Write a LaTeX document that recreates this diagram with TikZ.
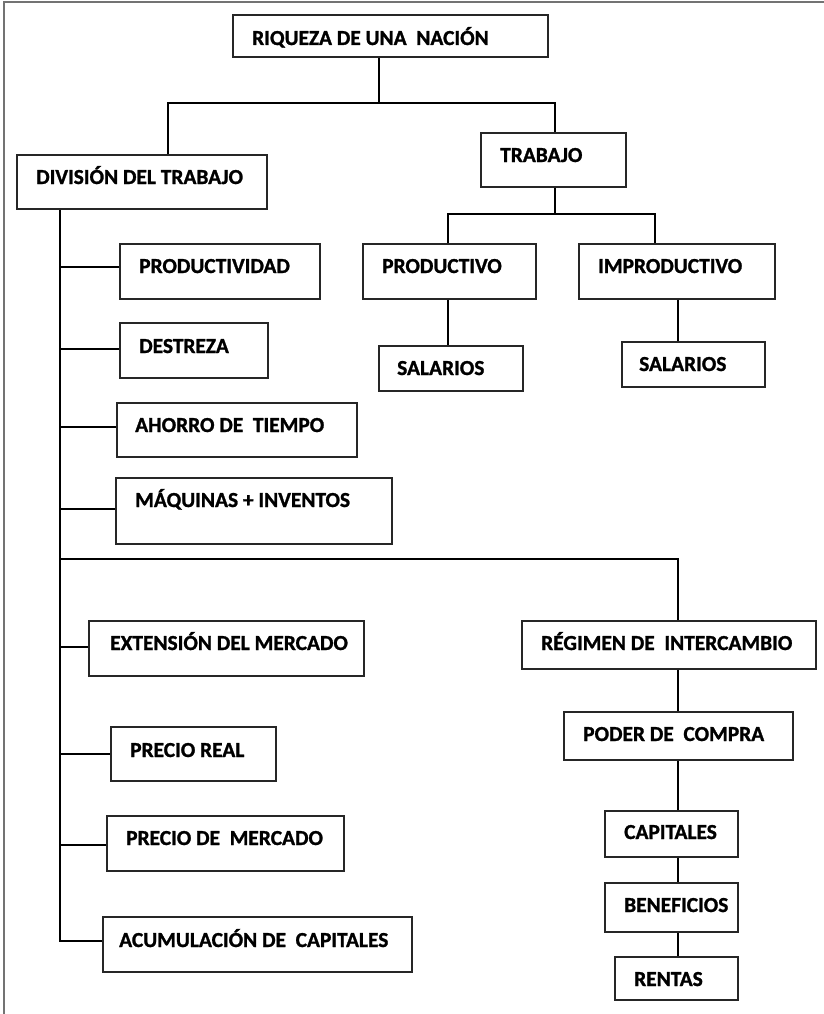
\documentclass[tikz,border=0pt]{standalone}
\usepackage{fontspec}
\setmainfont{Carlito}[BoldFont={Carlito Bold}, BoldFeatures={FakeBold=1.2}]
% box given by left, top, right, bottom (y grows downward)
\newcommand\bx[5]{\node[box, minimum width={(#4-#2)*1pt}, minimum height={(#5-#3)*1pt}] (#1) at ({(#2+#4)/2},{(#3+#5)/2}) {};}
% label placed by its baseline start
\newcommand\tx[4]{\node[lbl] (#1) at (#2,#3) {#4};}
\begin{document}
\begin{tikzpicture}[x=1pt,y=-1pt,
  box/.style={draw=black!85, line width=1.1pt, rectangle, inner sep=0pt},
  lbl/.style={font=\fontsize{21.4}{25}\selectfont\bfseries, inner sep=0pt, anchor=base west},
  link/.style={draw=black, line width=1.5pt},
  frameline/.style={draw=black!55, line width=1.4pt}]

\useasboundingbox (0,0) rectangle (824,1014);
\draw[frameline] (4,1014) -- (4,2) -- (824,2);

% boxes
\bx{riq}{233}{15}{548}{57}
\bx{div}{17}{155}{267}{209}
\bx{trab}{481}{133}{626}{187}
\bx{prodd}{120}{244}{320}{299}
\bx{des}{120}{323}{268}{378}
\bx{aho}{117}{403}{357}{457}
\bx{maq}{116}{478}{392}{544}
\bx{pro}{363}{244}{536}{299}
\bx{imp}{579}{244}{775}{299}
\bx{sal1}{379}{346}{523}{391}
\bx{sal2}{622}{342}{765}{387}
\bx{ext}{89}{621}{364}{676}
\bx{reg}{522}{621}{816}{669}
\bx{pod}{564}{712}{793}{760}
\bx{cap}{605}{811}{738}{857}
\bx{ben}{605}{883}{738}{932}
\bx{ren}{615}{957}{738}{1000}
\bx{pre}{111}{727}{276}{781}
\bx{pdm}{107}{816}{344}{871}
\bx{acu}{103}{917}{412}{972}

% labels
\tx{triq}{252}{45}{RIQUEZA DE UNA\ \ NACIÓN}
\tx{tdiv}{36}{184}{DIVISIÓN DEL TRABAJO}
\tx{ttrab}{500}{162}{TRABAJO}
\tx{tprodd}{139}{273}{PRODUCTIVIDAD}
\tx{tdes}{139}{353}{DESTREZA}
\tx{taho}{135}{432}{AHORRO DE\ \ TIEMPO}
\tx{tmaq}{135}{507}{MÁQUINAS + INVENTOS}
\tx{tpro}{382}{273}{PRODUCTIVO}
\tx{timp}{598}{273}{IMPRODUCTIVO}
\tx{tsal1}{397}{375}{SALARIOS}
\tx{tsal2}{639}{371}{SALARIOS}
\tx{text}{110}{650}{EXTENSIÓN DEL MERCADO}
\tx{treg}{541}{650}{RÉGIMEN DE\ \ INTERCAMBIO}
\tx{tpod}{583}{741}{PODER DE\ \ COMPRA}
\tx{tcap}{624}{839}{CAPITALES}
\tx{tben}{624}{912}{BENEFICIOS}
\tx{tren}{634}{986}{RENTAS}
\tx{tpre}{130}{757}{PRECIO REAL}
\tx{tpdm}{126}{845}{PRECIO DE\ \ MERCADO}
\tx{tacu}{119}{947}{ACUMULACIÓN DE\ \ CAPITALES}

% top split
\coordinate (jtop) at (379,103);
\coordinate (jdiv) at (168,103);
\coordinate (jtrab) at (555,103);
\draw[link] (riq.south -| jtop) -- (jtop);
\draw[link] (div.north -| jdiv) -- (jdiv) -- (jtrab) -- (trab.north -| jtrab);

% trabajo split
\coordinate (jw) at (555,214);
\coordinate (jpl) at (448,214);
\coordinate (jpr) at (655,214);
\coordinate (jir) at (678,320);
\draw[link] (trab.south -| jw) -- (jw);
\draw[link] (pro.north -| jpl) -- (jpl) -- (jpr) -- (imp.north -| jpr);
\draw[link] (pro.south -| jpl) -- (sal1.north -| jpl);
\draw[link] (imp.south -| jir) -- (sal2.north -| jir);

% spine under division del trabajo
\coordinate (sp) at (60,941);
\draw[link] (div.south -| sp) -- (sp) -- (sp -| acu.west);
\draw[link] ([yshift=4.5pt]prodd.west -| sp) -- ([yshift=4.5pt]prodd.west);
\draw[link] ([yshift=1.5pt]des.west -| sp) -- ([yshift=1.5pt]des.west);
\draw[link] ([yshift=3pt]aho.west -| sp) -- ([yshift=3pt]aho.west);
\draw[link] ([yshift=2pt]maq.west -| sp) -- ([yshift=2pt]maq.west);
\draw[link] ([yshift=1.5pt]ext.west -| sp) -- ([yshift=1.5pt]ext.west);
\draw[link] (pre.west -| sp) -- (pre.west);
\draw[link] ([yshift=-1.5pt]pdm.west -| sp) -- ([yshift=-1.5pt]pdm.west);

% exchange chain
\coordinate (jreg) at (678,559);
\draw[link] (jreg -| sp) -- (jreg) -- (reg.north -| jreg);
\draw[link] (reg.south -| jreg) -- (pod.north -| jreg);
\draw[link] (pod.south -| jreg) -- (cap.north -| jreg);
\draw[link] (cap.south -| jreg) -- (ben.north -| jreg);
\draw[link] (ben.south -| jreg) -- (ren.north -| jreg);
\end{tikzpicture}
\end{document}
